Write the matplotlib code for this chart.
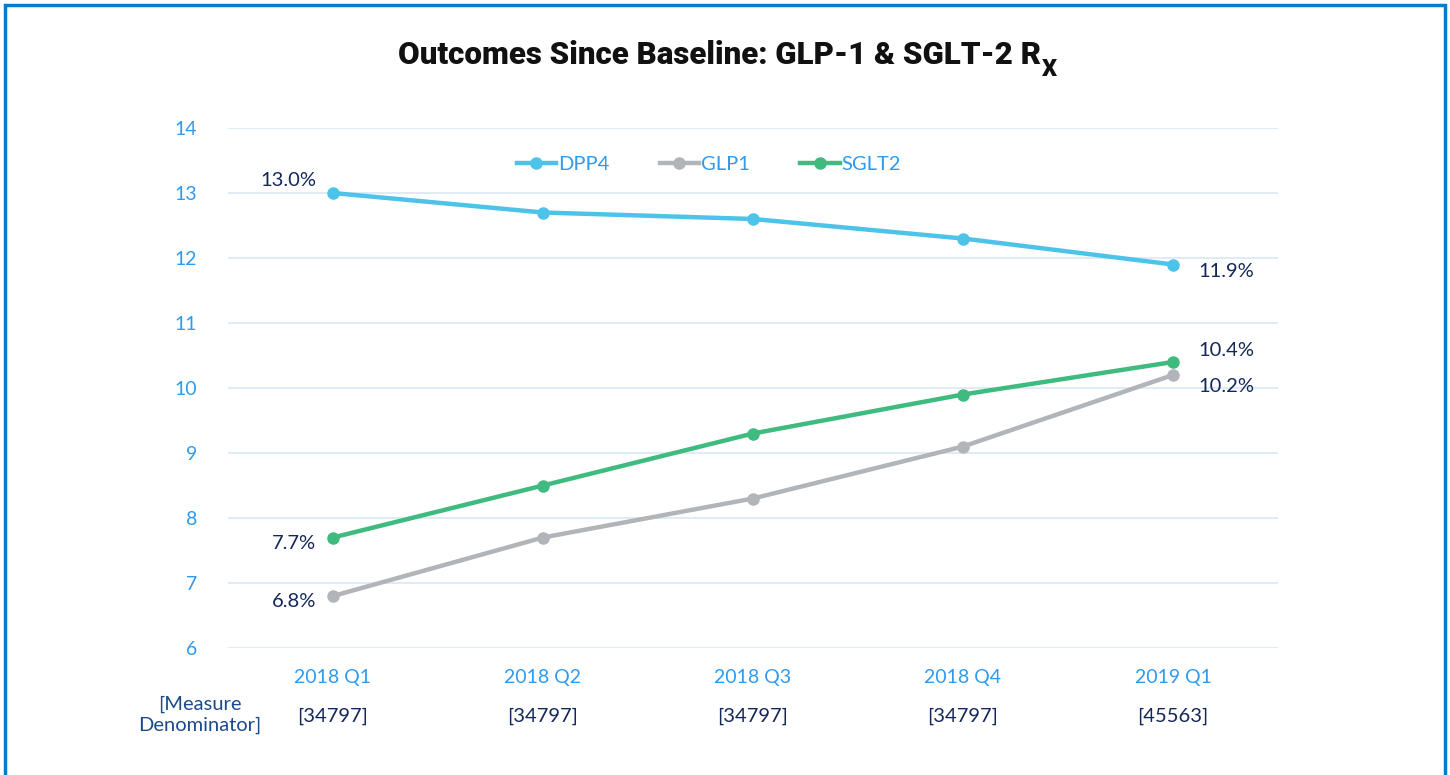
import matplotlib
matplotlib.use('Agg')
import matplotlib.pyplot as plt
from matplotlib.patches import Rectangle

plt.rcParams['font.family'] = ['Lato', 'DejaVu Sans']

quarters = ['2018 Q1', '2018 Q2', '2018 Q3', '2018 Q4', '2019 Q1']
denominators = ['[34797]', '[34797]', '[34797]', '[34797]', '[45563]']
dpp4 = [13.0, 12.7, 12.6, 12.3, 11.9]
glp1 = [6.8, 7.7, 8.3, 9.1, 10.2]
sglt2 = [7.7, 8.5, 9.3, 9.9, 10.4]

c_dpp4 = '#4dc3ea'
c_glp1 = '#b1b5b9'
c_sglt2 = '#3fbb7f'
tick_blue = '#2e9bf0'
navy = '#14275a'

fig = plt.figure(figsize=(14.5, 7.75), dpi=100)
ax = fig.add_axes([228/1450, 1-648/775, 1050/1450, 520/775])

x = list(range(len(quarters)))
lw = 3.2
ms = 8
ax.plot(x, dpp4, '-o', color=c_dpp4, lw=lw, ms=ms, label='DPP4', zorder=3)
ax.plot(x, glp1, '-o', color=c_glp1, lw=lw, ms=ms, label='GLP1', zorder=3)
ax.plot(x, sglt2, '-o', color=c_sglt2, lw=lw, ms=ms, label='SGLT2', zorder=3)

ax.set_xlim(-0.5, 4.5)
ax.set_ylim(6, 14)
ax.set_yticks(range(6, 15))
ax.set_xticks(x)
ax.set_xticklabels(quarters)
ax.yaxis.grid(True, color='#dceaf6', lw=1.3)
ax.set_axisbelow(True)
for s in ax.spines.values():
    s.set_visible(False)
ax.tick_params(length=0, labelsize=14, labelcolor=tick_blue)
ax.tick_params(axis='x', pad=15)
ax.tick_params(axis='y', pad=22)

# data labels
lab = dict(fontsize=14.5, color=navy, va='center')
ax.annotate('%.1f%%' % dpp4[0], (0, dpp4[0]), xytext=(-12, 9), textcoords='offset points', ha='right', **lab)
ax.annotate('%.1f%%' % sglt2[0], (0, sglt2[0]), xytext=(-12, -4), textcoords='offset points', ha='right', **lab)
ax.annotate('%.1f%%' % glp1[0], (0, glp1[0]), xytext=(-12, -4), textcoords='offset points', ha='right', **lab)
ax.annotate('%.1f%%' % dpp4[-1], (4, dpp4[-1]), xytext=(18, -5), textcoords='offset points', ha='left', **lab)
ax.annotate('%.1f%%' % sglt2[-1], (4, sglt2[-1]), xytext=(18, 8), textcoords='offset points', ha='left', **lab)
ax.annotate('%.1f%%' % glp1[-1], (4, glp1[-1]), xytext=(18, -8), textcoords='offset points', ha='left', **lab)

leg = ax.legend(loc='center', bbox_to_anchor=(0.458, 0.93), ncol=3, frameon=False,
                fontsize=14.5, handlelength=1.95, handletextpad=0.1, columnspacing=2.5)
for t in leg.get_texts():
    t.set_color(tick_blue)

# denominators row
for i, d in enumerate(denominators):
    fig.text((333 + 210*i)/1450, 1-716/775, d, ha='center', va='center', fontsize=14.5, color=navy)
fig.text(200/1450, 1-715/775, '[Measure\nDenominator]', ha='center', va='center', fontsize=14.5,
         color='#1d4a8a', linespacing=1.3)

title = fig.text(398/1450, 1-55/775, 'Outcomes Since Baseline: GLP-1 & SGLT-2 R', ha='left', va='center',
                 fontsize=22.5, fontweight='heavy', family='Roboto', color='#111111')
fig.canvas.draw()
bb = title.get_window_extent()
fig.text((bb.x1 + 1)/1450, 1-70/775, 'X', ha='left', va='center', fontsize=17,
         fontweight='heavy', family='Roboto', color='#111111')

fig.patches.append(Rectangle((5/1450, -0.05), 1440/1450, 1.05 - 5/775, transform=fig.transFigure,
                             fill=False, edgecolor='#0b7bc4', lw=2.5))

fig.savefig('out.png', dpi=100)
